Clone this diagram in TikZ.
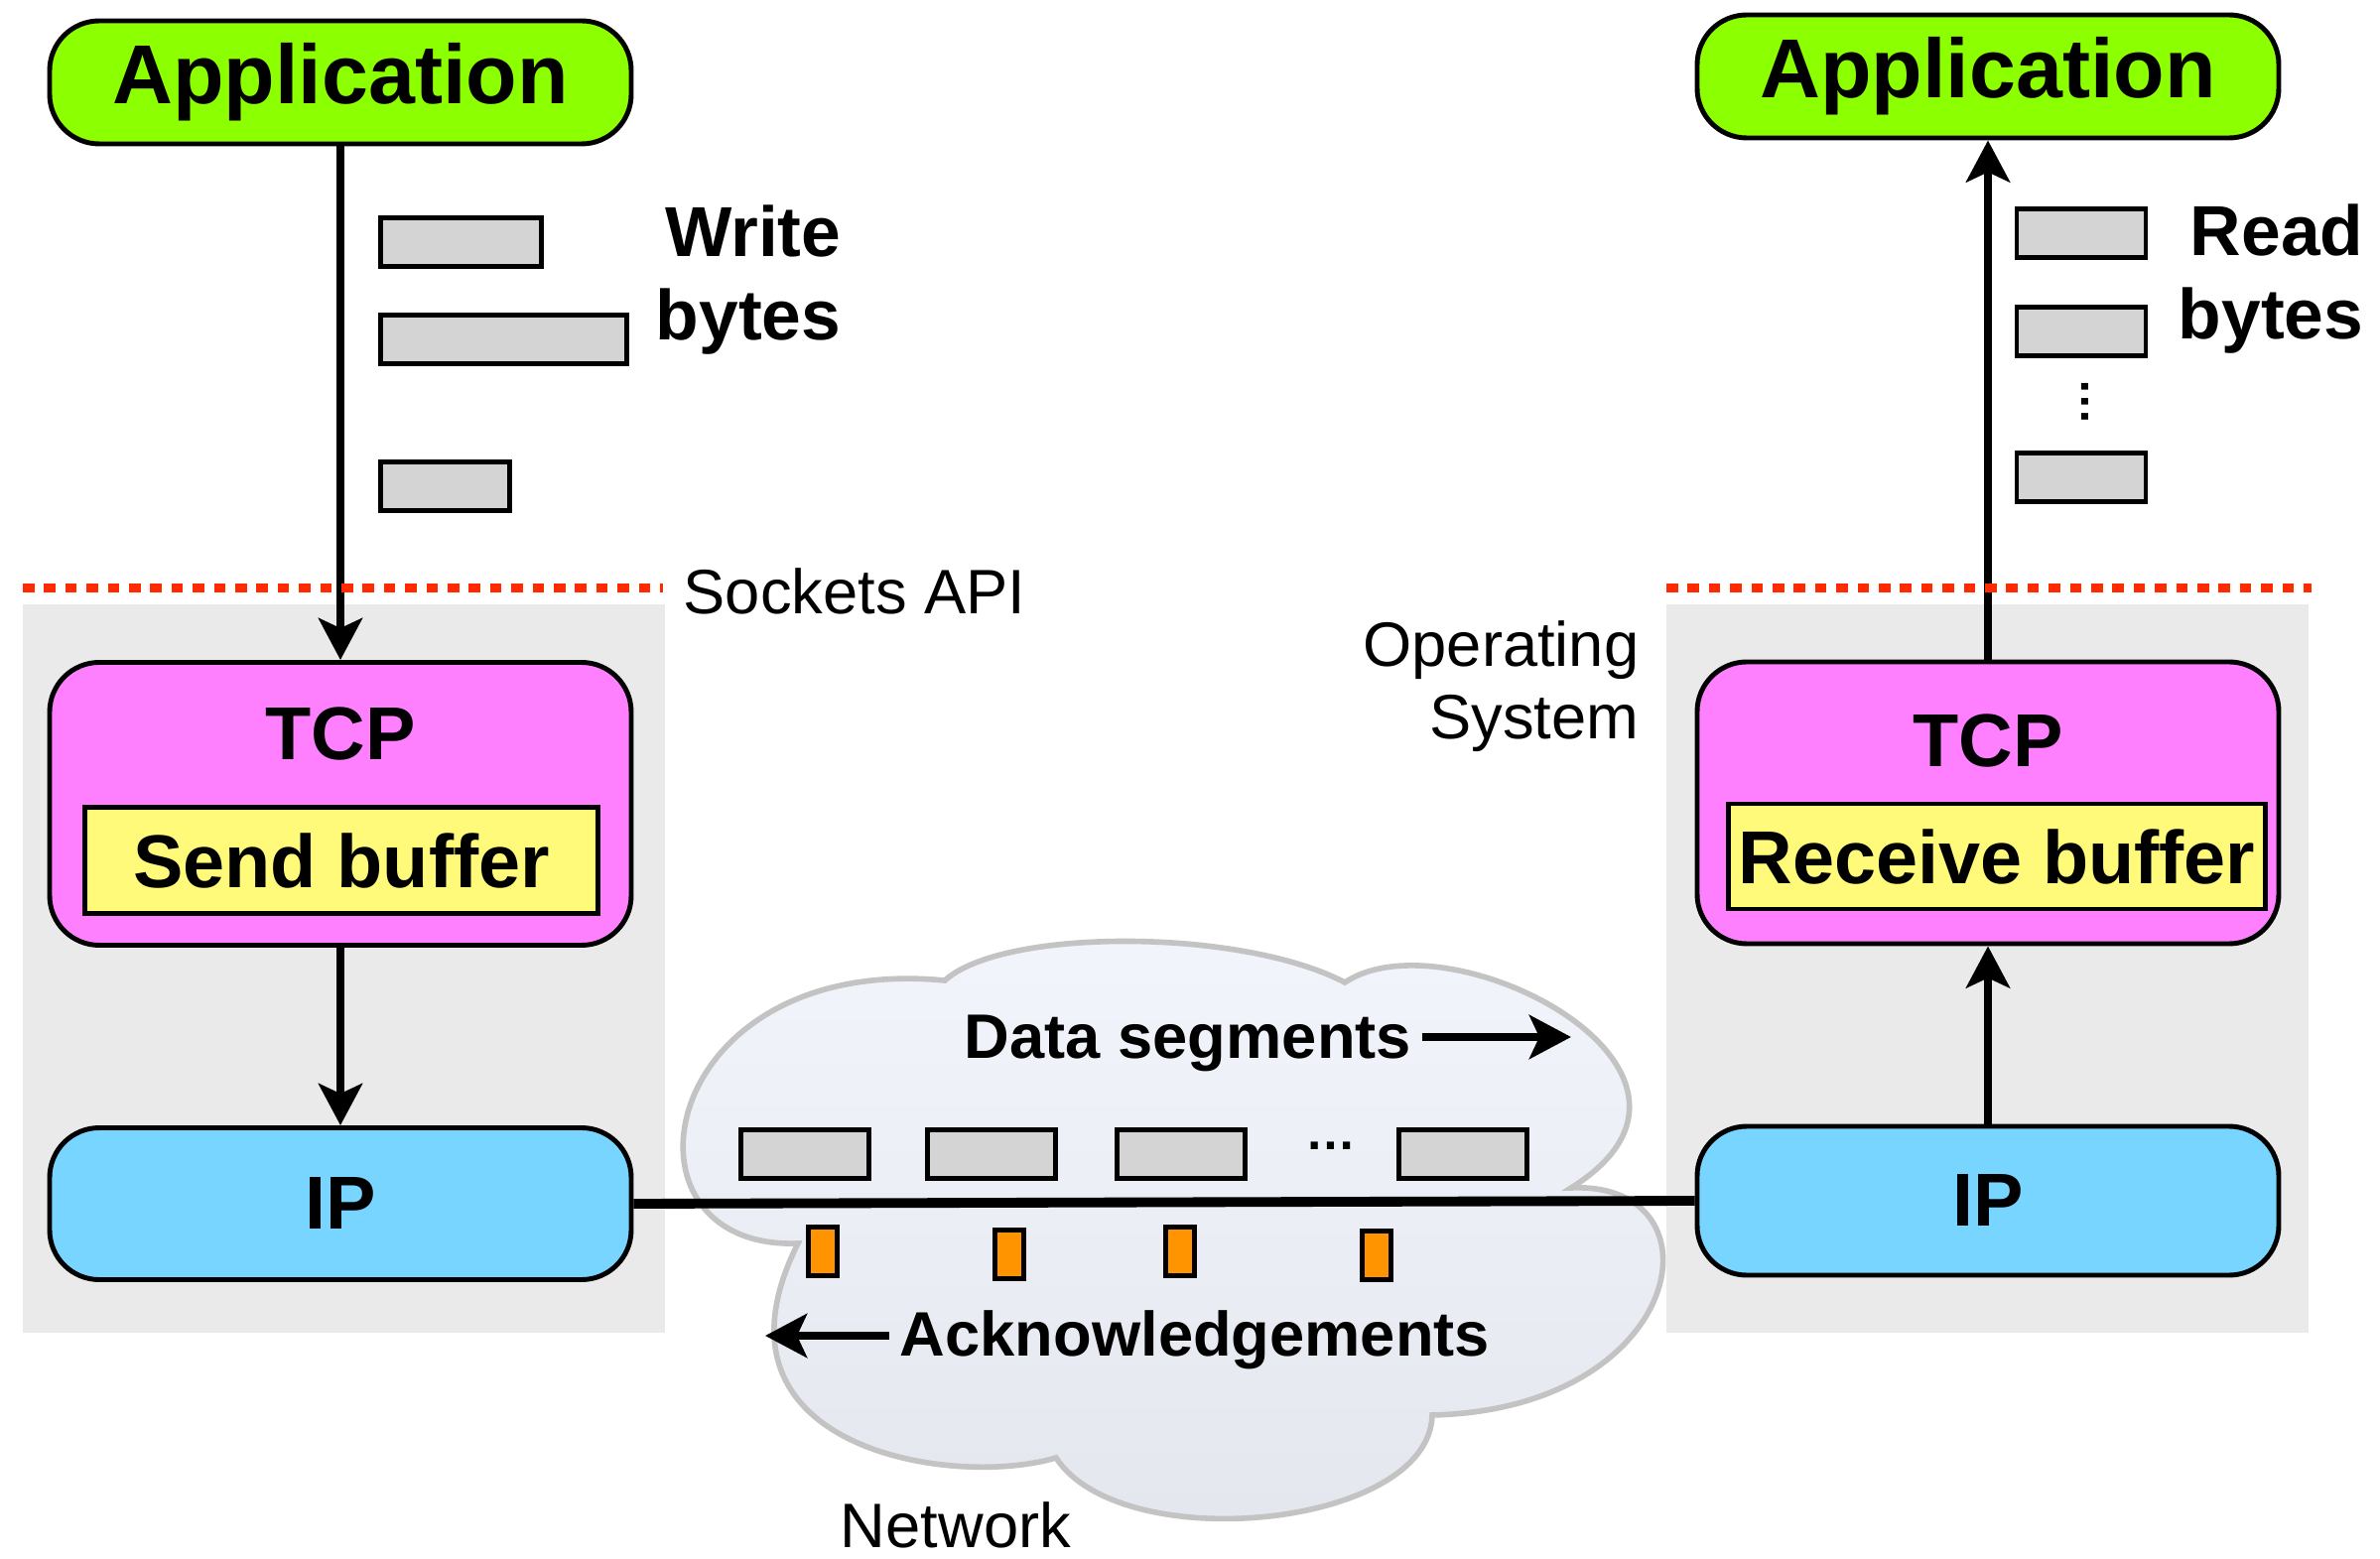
\documentclass[tikz,border=0pt]{standalone}
\usepackage{fontspec}
\setmainfont{Liberation Sans}
\usepackage{tikz}
\usetikzlibrary{arrows.meta,calc,positioning,shapes}
\definecolor{appgreen}{HTML}{8CFF00}
\definecolor{tcppink}{HTML}{FF80FF}
\definecolor{bufyellow}{HTML}{FFFA7A}
\definecolor{ipblue}{HTML}{77D5FF}
\definecolor{bytegray}{HTML}{D4D4D4}
\definecolor{ackorange}{HTML}{FF9400}
\definecolor{osgray}{HTML}{EAEAEA}
\definecolor{apired}{HTML}{FF2A00}
\definecolor{cloudtop}{HTML}{F3F5FD}
\definecolor{cloudbot}{HTML}{E4E6EE}
\definecolor{cloudline}{HTML}{C3C3C3}
\tikzset{STACK style/.style={>={Stealth[length=0.42cm,width=0.44cm,inset=0.1cm]},
	every node/.append style={inner sep=0.1cm}}}
\newcommand{\appfont}{\fontsize{24}{28}\selectfont\bfseries}
\newcommand{\layerfont}{\fontsize{21.5}{25}\selectfont\bfseries}
\newcommand{\bytesfont}{\fontsize{20.3}{23.8}\selectfont\bfseries}
\newcommand{\notefont}{\fontsize{18}{20.7}\selectfont}

\begin{document}
\begin{tikzpicture}[STACK style]
	\tikzstyle{layer}=[draw, line width=1.4pt, rounded corners=0.5cm, minimum width=5.86cm]
	\tikzstyle{bytes}=[draw, fill=bytegray, line width=1.4pt, minimum height=0.49cm, inner sep=0]
	\tikzstyle{ack}=[draw, fill=ackorange, line width=1.4pt, minimum width=0.29cm, minimum height=0.49cm, inner sep=0]
	\tikzstyle{flow}=[->, line width=2.4pt]
	\tikzstyle{apiline}=[apired, line width=0.09cm, dash pattern=on 0.115cm off 0.099cm]

	\useasboundingbox (0,0) rectangle (23.98,-15.71);

	% kernel side of both hosts
	\fill[osgray] (0.23,-6.09) rectangle (6.70,-13.43);
	\fill[osgray] (16.79,-6.09) rectangle (23.26,-13.43);

	% the network
	\path[draw=cloudline, line width=1.6pt, top color=cloudtop, bottom color=cloudbot]
	(9.52,-9.88) .. controls (10.1,-9.35) and (12.5,-9.35) .. (13.55,-9.90)
	.. controls (14.6,-9.2) and (17.7,-10.8) .. (15.83,-11.97)
	.. controls (17.4,-11.9) and (17.0,-14.2) .. (14.43,-14.26)
	.. controls (14.4,-15.4) and (11.3,-15.7) .. (10.64,-14.69)
	.. controls (9.6,-15.0) and (7.0,-14.6) .. (8.04,-12.53)
	.. controls (6.1,-12.6) and (6.6,-9.6) .. cycle;

	% sender
	\node[layer, fill=appgreen, minimum height=1.24cm, font=\appfont] (appL) at (3.43,-0.83) {Application};
	\node[layer, fill=tcppink, minimum height=2.85cm] (tcpL) at (3.43,-8.10) {};
	\node[font=\layerfont] (tcpLname) at ([yshift=-0.74cm]tcpL.north) {TCP};
	\node[draw, line width=1.4pt, fill=bufyellow, minimum width=5.17cm, minimum height=1.07cm,
	font=\layerfont] (sendbuf) at (3.44,-8.67) {Send buffer};
	\node[layer, fill=ipblue, minimum height=1.53cm, font=\layerfont] (ipL) at (3.43,-12.13) {IP};

	% receiver
	\node[layer, fill=appgreen, minimum height=1.24cm, font=\appfont] (appR) at (20.03,-0.77) {Application};
	\node[layer, fill=tcppink, minimum height=2.84cm] (tcpR) at (20.03,-8.09) {};
	\node[font=\layerfont] (tcpRname) at ([yshift=-0.82cm]tcpR.north) {TCP};
	\node[draw, line width=1.4pt, fill=bufyellow, minimum width=5.34cm, minimum height=1.06cm,
	font=\layerfont] (recvbuf) at (20.12,-8.63) {Receive buffer};
	\node[layer, fill=ipblue, minimum height=1.50cm, font=\layerfont] (ipR) at (20.03,-12.10) {IP};

	\draw[line width=2.8pt] (ipL.east) -- (ipR.west);

	% bytes written by the sender
	\node[bytes, minimum width=1.62cm, anchor=west] (wr1) at (3.81,-2.44) {};
	\node[bytes, minimum width=2.48cm, anchor=west] (wr2) at (3.81,-3.42) {};
	\node[bytes, minimum width=1.30cm, anchor=west] (wr3) at (3.81,-4.90) {};
	\node[font=\bytesfont, align=right, anchor=east] (wrlbl) at (8.58,-2.82) {Write\\bytes};

	% bytes read by the receiver
	\node[bytes, minimum width=1.30cm] (rd1) at (20.97,-2.35) {};
	\node[bytes, minimum width=1.30cm] (rd2) at (20.97,-3.34) {};
	\node[font=\fontsize{13.5}{15}\selectfont\bfseries, rotate=90, inner sep=0] (rddots) at (21.01,-4.05) {…};
	\node[bytes, minimum width=1.30cm] (rd3) at (20.97,-4.81) {};
	\node[font=\bytesfont, align=right, anchor=east] (rdlbl) at (23.92,-2.81) {Read\\bytes};

	% segments and acks in flight
	\foreach \x [count=\i] in {8.11,9.99,11.90,14.74}
	\node[bytes, minimum width=1.29cm] (seg\i) at (\x,-11.63) {};
	\node[font=\fontsize{14.5}{16}\selectfont\bfseries, anchor=base] (segdots) at (13.41,-11.58) {…};
	\foreach \x/\y [count=\i] in {8.29/-12.61, 10.17/-12.64, 11.89/-12.61, 13.87/-12.65}
	\node[ack] (ack\i) at (\x,\y) {};

	\node[font=\notefont\bfseries, anchor=base] (dseg) at (11.97,-10.67) {Data segments};
	\coordinate (dseghead) at (15.83,-10.45);
	\node[font=\notefont\bfseries, anchor=base] (acks) at (12.04,-13.66) {Acknowledgements};
	\coordinate (ackhead) at (7.71,-13.46);

	\node[font=\notefont] (api) at (8.61,-5.96) {Sockets API};
	\node[font=\notefont, align=right, anchor=east] (os) at (16.62,-6.92) {Operating\\System};
	\node[font=\notefont] (net) at (9.63,-15.37) {Network};

	% data flow
	\draw[flow] (appL.south) -- (tcpL.north);
	\draw[flow] (tcpL.south) -- (ipL.north);
	\draw[flow] (ipR.north) -- (tcpR.south);
	\draw[flow] (tcpR.north) -- (appR.south);
	\draw[flow] (dseg.east |- dseghead) -- (dseghead);
	\draw[flow] (acks.west |- ackhead) -- (ackhead);

	% socket boundary
	\draw[apiline] (0.23,-5.93) -- (6.68,-5.93);
	\draw[apiline] (16.79,-5.93) -- (23.29,-5.93);
\end{tikzpicture}
\end{document}
